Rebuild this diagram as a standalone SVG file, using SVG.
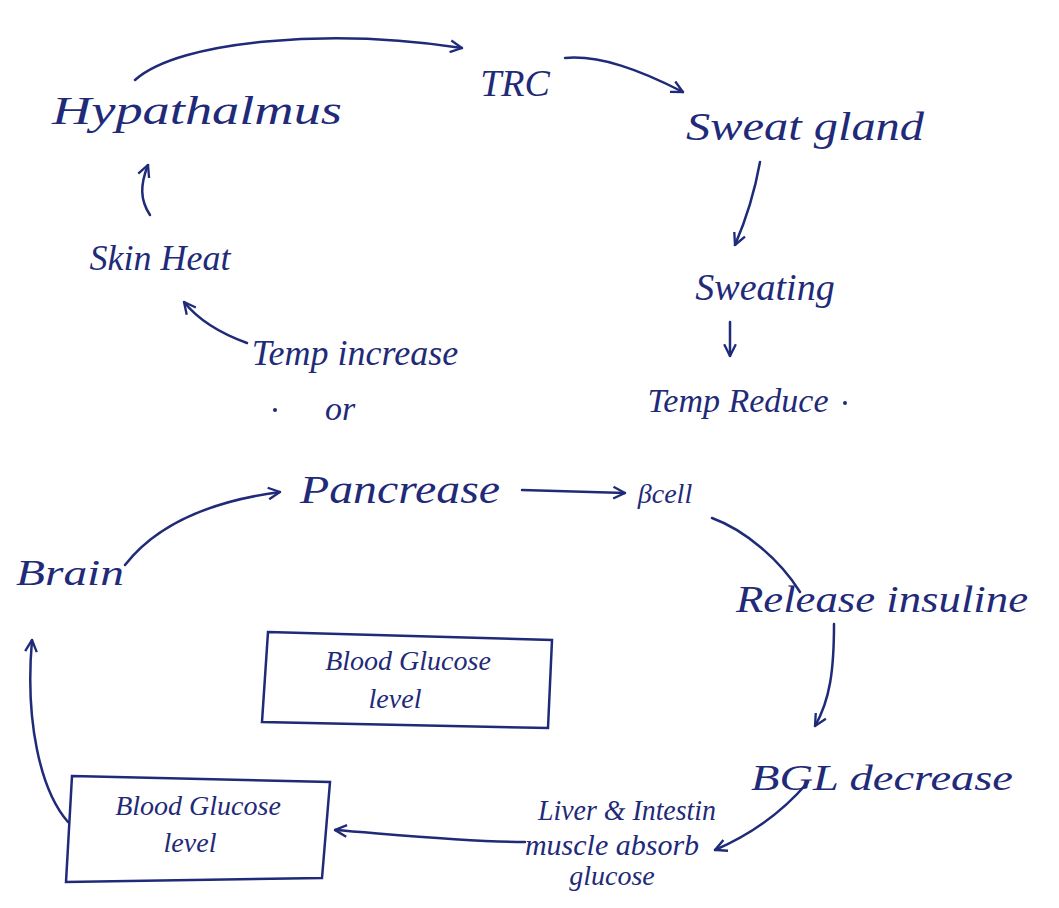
<svg xmlns="http://www.w3.org/2000/svg" width="1059" height="908" viewBox="0 0 1059 908">
<defs>
<marker id="ah" viewBox="0 0 12 12" refX="11" refY="6" markerWidth="14" markerHeight="14" markerUnits="userSpaceOnUse" orient="auto">
<path d="M1,1 L11,6 L1,11" fill="none" stroke="#1f2a78" stroke-width="2"/>
</marker>
<style>
.t{font-family:"Liberation Serif",serif;font-style:italic;fill:#1f2a78;text-anchor:middle}
.c{fill:none;stroke:#1f2a78;stroke-width:2.5;stroke-linecap:round}
.b{fill:none;stroke:#1f2a78;stroke-width:2.5}
</style>
</defs>
<rect width="1059" height="908" fill="#ffffff"/>
<g id="connectors">
<path class="c" marker-end="url(#ah)" d="M135,80 C180,40 330,28 462,48"/>
<path class="c" marker-end="url(#ah)" d="M565,58 C600,55 640,70 683,92"/>
<path class="c" marker-end="url(#ah)" d="M760,162 C755,190 748,215 735,245"/>
<path class="c" marker-end="url(#ah)" d="M730,322 L730,356"/>
<path class="c" marker-end="url(#ah)" d="M150,215 C140,200 140,185 148,165"/>
<path class="c" marker-end="url(#ah)" d="M247,343 C225,335 200,322 184,302"/>
<path class="c" marker-end="url(#ah)" d="M125,565 C160,520 220,500 280,492"/>
<path class="c" marker-end="url(#ah)" d="M522,490 L625,493"/>
<path class="c" d="M712,518 C745,530 780,560 800,592"/>
<path class="c" marker-end="url(#ah)" d="M834,624 C834,670 830,700 815,726"/>
<path class="c" marker-end="url(#ah)" d="M808,782 C780,815 750,835 715,850"/>
<path class="c" marker-end="url(#ah)" d="M525,842 C470,842 400,835 335,830"/>
<path class="c" marker-end="url(#ah)" d="M68,822 C40,790 25,720 32,640"/>
</g>
<g id="hypathalmus"><text class="t" x="197" y="124" font-size="40" textLength="290" lengthAdjust="spacingAndGlyphs">Hypathalmus</text></g>
<g id="trc"><text class="t" x="515" y="96" font-size="38">TRC</text></g>
<g id="sweat-gland"><text class="t" x="805" y="140" font-size="40" textLength="238" lengthAdjust="spacingAndGlyphs">Sweat gland</text></g>
<g id="sweating"><text class="t" x="765" y="300" font-size="38">Sweating</text></g>
<g id="temp-reduce"><text class="t" x="738" y="412" font-size="34">Temp Reduce</text><circle cx="845" cy="403" r="2" fill="#1f2a78"/></g>
<g id="skin-heat"><text class="t" x="160" y="270" font-size="36">Skin Heat</text></g>
<g id="temp-increase"><text class="t" x="355" y="365" font-size="36">Temp increase</text></g>
<g id="or"><text class="t" x="340" y="420" font-size="34">or</text><circle cx="275" cy="410" r="2" fill="#1f2a78"/></g>
<g id="pancrease"><text class="t" x="400" y="503" font-size="40" textLength="200" lengthAdjust="spacingAndGlyphs">Pancrease</text></g>
<g id="bcell"><text class="t" x="665" y="503" font-size="28">βcell</text></g>
<g id="brain"><text class="t" x="70" y="585" font-size="36" textLength="108" lengthAdjust="spacingAndGlyphs">Brain</text></g>
<g id="release-insuline"><text class="t" x="882" y="612" font-size="38" textLength="292" lengthAdjust="spacingAndGlyphs">Release insuline</text></g>
<g id="bgl-decrease"><text class="t" x="882" y="790" font-size="36" textLength="262" lengthAdjust="spacingAndGlyphs">BGL decrease</text></g>
<g id="liver"><text class="t" x="627" y="820" font-size="30" textLength="178" lengthAdjust="spacingAndGlyphs">Liver &amp; Intestin</text><text class="t" x="612" y="855" font-size="30">muscle absorb</text><text class="t" x="612" y="885" font-size="28">glucose</text></g>
<g id="box1"><path class="b" d="M268,632 L552,640 L548,728 L262,722 Z"/><text class="t" x="408" y="670" font-size="28">Blood Glucose</text><text class="t" x="395" y="708" font-size="28">level</text></g>
<g id="box2"><path class="b" d="M72,776 L330,782 L322,878 L66,882 Z"/><text class="t" x="198" y="815" font-size="28">Blood Glucose</text><text class="t" x="190" y="852" font-size="28">level</text></g>
</svg>
